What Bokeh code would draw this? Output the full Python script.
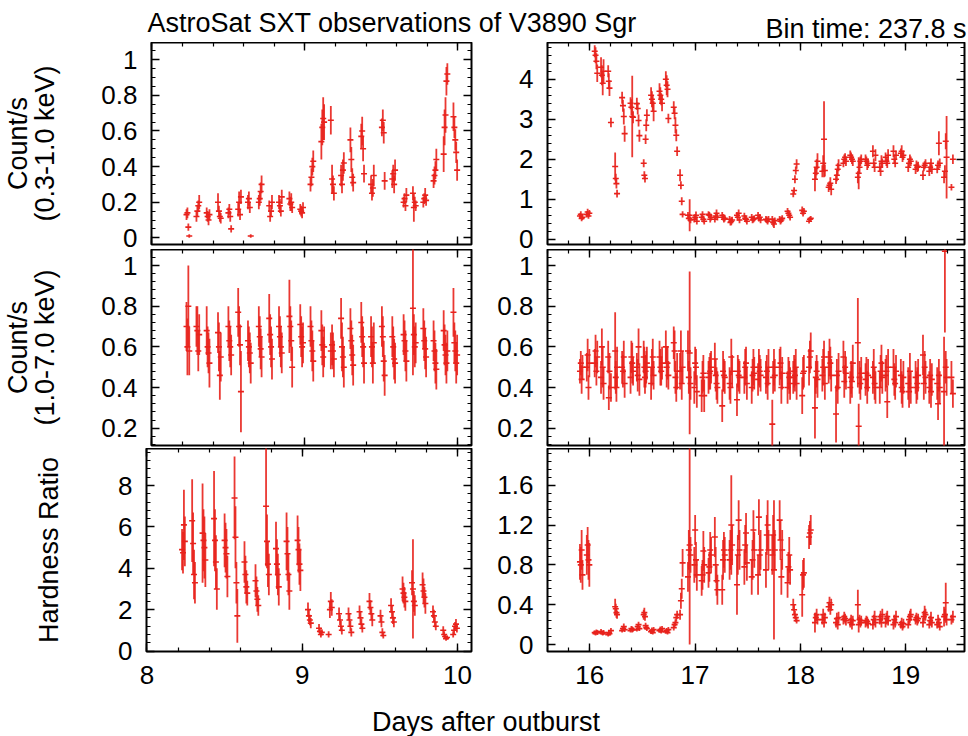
import numpy as np
from bokeh.plotting import figure
from bokeh.models import (Range1d, LinearAxis, SingleIntervalTicker, Label,
                          CustomJSTickFormatter, CustomLabelingPolicy)
from bokeh.layouts import column, row
from bokeh.embed import file_html
from bokeh.resources import INLINE

TITLE = "AstroSat SXT observations of V3890 Sgr"
BIN_TEXT = "Bin time: 237.8 s"
XLABEL = "Days after outburst"
YLABELS = ["Count/s\n(0.3-1.0 keV)", "Count/s\n(1.0-7.0 keV)", "Hardness Ratio"]

# ---------------- left block (days 8-10) ----------------
T_LEFT = [
    8.226, 8.232, 8.238, 8.244,
    8.291, 8.297, 8.303, 8.309,
    8.358, 8.364, 8.370, 8.376,
    8.432, 8.438, 8.444, 8.450,
    8.500, 8.506, 8.512, 8.518,
    8.564, 8.570, 8.576, 8.582,
    8.628, 8.634, 8.640, 8.646,
    8.699, 8.705, 8.711, 8.717,
    8.767, 8.773, 8.779, 8.785,
    8.831, 8.837, 8.843, 8.849,
    8.899, 8.905, 8.911, 8.917,
    8.970, 8.976, 8.982, 8.988,
    9.037, 9.043, 9.049, 9.055,
    9.108, 9.114, 9.120, 9.126,
    9.170, 9.178, 9.184, 9.190,
    9.237, 9.243, 9.249, 9.255,
    9.298, 9.304, 9.310, 9.316,
    9.369, 9.375, 9.381, 9.387,
    9.433, 9.439, 9.445, 9.451,
    9.504, 9.510, 9.516, 9.522,
    9.572, 9.578, 9.584, 9.590,
    9.646, 9.652, 9.658, 9.664,
    9.707, 9.713, 9.719, 9.725,
    9.775, 9.781, 9.787, 9.793,
    9.842, 9.848, 9.854, 9.860,
    9.908, 9.914, 9.920, 9.926, 9.932,
    9.972, 9.978, 9.984, 9.990, 9.996,
]
SOFT_LEFT = [
    .13, .14, .06, .01,
    .12, .15, .18, .20,
    .14, .12, .10, .13,
    .20, .15, .12, .11,
    .14, .16, .12, .05,
    .16, .20, .13, .23,
    .20, .22, .17, .01,
    .20, .22, .26, .30,
    .18, .12, .15, .20,
    .20, .18, .15, .23,
    .22, .19, .20, .17,
    .16, .15, .14, .17,
    .30, .34, .40, .43,
    .54, .62, .67, .65,
    .66, .33, .30, .25,
    .35, .30, .38, .42,
    .55, .44, .34, .31,
    .57, .60, .50, .36,
    .30, .25, .28, .35,
    .62, .66, .59, .32,
    .33, .36, .30, .38,
    .20, .22, .18, .24,
    .25, .17, .20, .18,
    .20, .22, .24, .21,
    .32, .35, .38, .44,
    .47, .62, .69, .88, .92,
    .68, .62, .55, .48, .38,
]
SOFT_LEFT_ERR = [
    .03, .03, .02, .01,
    .03, .03, .03, .04,
    .03, .03, .03, .03,
    .05, .03, .03, .03,
    .03, .03, .03, .02,
    .04, .06, .03, .04,
    .04, .04, .03, .01,
    .04, .04, .05, .05,
    .03, .03, .03, .04,
    .04, .04, .03, .04,
    .04, .04, .05, .03,
    .03, .03, .03, .03,
    .04, .05, .05, .06,
    .10, .10, .12, .10,
    .08, .08, .05, .04,
    .06, .05, .06, .06,
    .07, .07, .05, .05,
    .07, .08, .07, .05,
    .05, .04, .05, .06,
    .05, .06, .06, .05,
    .05, .05, .05, .06,
    .03, .03, .03, .04,
    .04, .08, .03, .03,
    .03, .03, .04, .03,
    .04, .05, .05, .06,
    .10, .10, .10, .08, .06,
    .08, .06, .06, .06, .06,
]
HARD_LEFT = [
    .70, .60, .80, .58,
    .70, .68, .58, .66,
    .68, .60, .57, .52,
    .67, .60, .46, .55,
    .70, .63, .60, .56,
    .77, .70, .61, .38,
    .63, .60, .57, .52,
    .70, .65, .59, .55,
    .74, .66, .60, .54,
    .70, .65, .60, .57,
    .75, .70, .63, .50,
    .71, .65, .60, .62,
    .70, .63, .58, .53,
    .68, .61, .55, .60,
    .58, .61, .58, .54,
    .74, .60, .55, .50,
    .69, .63, .56, .51,
    .72, .65, .60, .52,
    .65, .60, .52, .62,
    .70, .65, .53, .46,
    .65, .60, .54, .52,
    .66, .63, .58, .53,
    .79, .66, .60, .62,
    .69, .63, .59, .55,
    .63, .58, .52, .49,
    .68, .61, .56, .52, .58,
    .77, .62, .58, .52, .56,
]
HARD_LEFT_ERR = [
    .12, .14, .20, .12,
    .10, .12, .10, .10,
    .12, .10, .10, .12,
    .10, .12, .12, .12,
    .10, .10, .10, .10,
    .12, .10, .10, .20,
    .10, .10, .10, .10,
    .10, .10, .10, .10,
    .12, .10, .10, .10,
    .10, .10, .10, .10,
    .18, .10, .10, .10,
    .10, .10, .10, .10,
    .10, .10, .10, .10,
    .10, .10, .10, .10,
    .09, .10, .09, .09,
    .10, .12, .10, .10,
    .10, .10, .10, .10,
    .10, .10, .10, .10,
    .10, .10, .10, .10,
    .10, .10, .10, .10,
    .10, .10, .10, .10,
    .10, .10, .10, .10,
    .33, .10, .10, .10,
    .10, .10, .10, .10,
    .10, .10, .10, .10,
    .10, .10, .10, .10, .10,
    .12, .10, .10, .10, .10,
]
HR_LEFT = [
    4.9, 4.75, 6.1, 5.3,
    6.3, 5.2, 3.7, 3.3,
    5.7, 5.35, 5.0, 4.4,
    6.4, 5.35, 4.3, 3.0,
    5.35, 5.0, 4.7, 3.6,
    7.4, 5.5, 3.3, 1.7,
    4.3, 3.7, 3.1, 2.8,
    3.4, 2.9, 2.5, 2.2,
    7.0, 5.3, 4.2, 3.7,
    4.95, 4.2, 3.7, 3.1,
    5.3, 4.7, 3.7, 2.9,
    5.35, 4.9, 4.2, 3.9,
    2.0, 1.7, 1.5, 1.35,
    1.1, .95, .8, .9,
    .8, 2.0, 2.4, 2.1,
    1.8, 1.5, 1.2, 1.0,
    1.8, 1.5, 1.2, .9,
    1.9, 1.6, 1.3, 1.1,
    2.4, 2.1, 1.8, 1.5,
    1.7, 1.4, .9, .75,
    2.2, 1.9, 1.6, 1.4,
    3.0, 2.8, 2.6, 2.4,
    3.3, 3.0, 2.4, 2.2,
    3.2, 2.9, 2.6, 2.3,
    1.9, 1.7, 1.4, 1.2,
    1.0, .8, .7, .6, .65,
    .8, 1.0, 1.2, 1.3, 1.1,
]
HR_LEFT_ERR = [
    1.0, 1.0, 1.7, 1.2,
    2.0, 1.5, 1.2, 1.0,
    2.4, 1.5, 1.5, 1.3,
    2.3, 1.5, 1.3, 1.0,
    1.3, 1.2, 1.2, 1.0,
    2.0, 1.5, 1.0, 1.3,
    1.0, .9, .8, .6,
    .8, .7, .6, .5,
    2.9, 1.3, 1.1, 1.0,
    1.3, 1.2, 1.0, .9,
    1.4, 1.3, 1.0, .9,
    1.2, 1.1, 1.0, 1.0,
    .35, .3, .25, .25,
    .2, .18, .15, .15,
    .15, .4, .45, .4,
    .3, .25, .25, .2,
    .3, .3, .25, .2,
    .3, .3, .25, .2,
    .4, .35, .3, .3,
    .3, .25, .2, .15,
    .35, .3, .3, .25,
    .6, .5, .5, .45,
    .6, 2.4, .5, .5,
    .6, .6, .5, .5,
    .3, .3, .25, .2,
    .2, .15, .12, .1, .1,
    .15, .2, .2, .25, .2,
]

# ---------------- right block (days 15.9-19.5) ----------------
T_RIGHT = [
    15.908, 15.916, 15.924, 15.932,
    15.973, 15.981, 15.989, 15.997,
    16.048, 16.056, 16.064, 16.072,
    16.108, 16.116, 16.124, 16.132,
    16.176, 16.182, 16.188, 16.202,
    16.242, 16.248, 16.254, 16.260,
    16.308, 16.316, 16.324, 16.332,
    16.388, 16.396, 16.404, 16.412,
    16.448, 16.456, 16.464, 16.472,
    16.513, 16.519, 16.525, 16.531, 16.537, 16.543,
    16.583, 16.591, 16.599, 16.607,
    16.663, 16.671, 16.679, 16.687,
    16.723, 16.731, 16.739, 16.747,
    16.798, 16.806, 16.814, 16.822, 16.830,
    16.858, 16.866, 16.874, 16.882,
    16.933, 16.941, 16.949, 16.957,
    16.993, 17.001, 17.009, 17.017,
    17.063, 17.071, 17.079, 17.087,
    17.128, 17.136, 17.144, 17.152,
    17.188, 17.196, 17.204, 17.212,
    17.258, 17.266, 17.274, 17.282,
    17.328, 17.336, 17.344, 17.352,
    17.398, 17.406, 17.414, 17.422,
    17.468, 17.476, 17.484, 17.492,
    17.538, 17.546, 17.554, 17.562,
    17.598, 17.606, 17.614, 17.622,
    17.673, 17.681, 17.689, 17.697,
    17.733, 17.741, 17.749, 17.757,
    17.803, 17.811, 17.819, 17.827,
    17.878, 17.886, 17.894, 17.902,
    17.932, 17.940, 17.948, 17.956, 17.964,
    18.017, 18.025, 18.033,
    18.082, 18.090, 18.098,
    18.138, 18.146, 18.154, 18.162,
    18.208, 18.216, 18.224, 18.232,
    18.268, 18.276, 18.284, 18.292,
    18.338, 18.346, 18.354, 18.362,
    18.408, 18.416, 18.424, 18.432,
    18.473, 18.481, 18.489, 18.497,
    18.545, 18.553, 18.561, 18.569, 18.577,
    18.618, 18.626, 18.634, 18.642,
    18.688, 18.696, 18.704, 18.712,
    18.753, 18.761, 18.769, 18.777,
    18.808, 18.816, 18.824, 18.832,
    18.883, 18.891, 18.899, 18.907,
    18.953, 18.961, 18.969, 18.977,
    19.023, 19.031, 19.039, 19.047,
    19.093, 19.101, 19.109, 19.117,
    19.163, 19.171, 19.179, 19.187,
    19.223, 19.231, 19.239, 19.247,
    19.298, 19.306, 19.314, 19.322,
    19.363, 19.371, 19.379, 19.387,
    19.433, 19.447,
]
SOFT_RIGHT = [
    .58, .62, .52, .55,
    .62, .68, .58, .65,
    4.70, 4.60, 4.45, 4.15,
    4.30, 4.10, 3.90, 4.20,
    4.20, 3.95, 3.78, 2.92,
    1.82, 1.52, 1.39, 1.14,
    3.54, 3.34, 3.07, 2.64,
    3.40, 3.30, 3.07, 3.05,
    3.39, 3.27, 2.97, 2.59,
    1.90, 1.60, 1.52, 2.50, 2.85, 3.10,
    3.60, 3.50, 3.40, 3.20,
    3.70, 3.60, 3.50, 3.40,
    4.00, 3.85, 3.75, 3.02,
    3.30, 3.15, 2.85, 2.60, 2.20,
    1.60, 1.35, 0.95, 0.62,
    .60, .52, .60, .48,
    .50, .55, .60, .45,
    .55, .62, .50, .45,
    .62, .60, .50, .55,
    .50, .58, .65, .55,
    .60, .55, .50, .52,
    .50, .42, .45, .48,
    .60, .55, .65, .48,
    .58, .52, .50, .45,
    .55, .48, .50, .52,
    .60, .52, .55, .48,
    .50, .48, .45, .50,
    .50, .42, .38, .46,
    .50, .45, .48, .52,
    .70, .65, .60, .55,
    1.13, 1.22, 1.50, 1.72, 1.88,
    .72, .65, .70,
    .45, .50, .52,
    1.50, 1.65, 1.80, 1.95,
    1.70, 1.90, 2.50, 1.72,
    1.30, 1.35, 1.40, 1.25,
    1.50, 1.60, 1.75, 1.85,
    1.90, 2.00, 2.05, 1.95,
    2.10, 2.05, 2.00, 1.95,
    1.55, 1.65, 1.80, 1.95, 2.00,
    2.00, 1.95, 1.85, 1.90,
    2.20, 1.90, 1.80, 2.10,
    1.80, 1.70, 1.95, 1.90,
    2.05, 1.95, 1.90, 2.10,
    2.20, 2.00, 1.90, 2.10,
    2.15, 2.20, 2.05, 2.10,
    1.80, 1.90, 2.00, 1.95,
    1.75, 1.85, 1.80, 1.82,
    1.60, 1.80, 1.85, 1.90,
    1.70, 1.80, 1.90, 1.75,
    1.75, 1.85, 2.40, 1.90,
    1.55, 1.70, 2.45, 2.05,
    1.30, 2.00,
]
SOFT_RIGHT_ERR = [
    .07, .08, .07, .07,
    .08, .08, .07, .08,
    .15, .20, .20, .22,
    .25, .25, .30, .30,
    .15, .20, .20, .12,
    .35, .12, .12, .10,
    .15, .15, .20, .20,
    .15, .20, 1.02, .15,
    .15, .15, .15, .15,
    .10, .10, .10, .12, .15, .15,
    .20, .20, .20, .25,
    .20, .20, .15, .20,
    .20, .25, .20, .12,
    .15, .15, .20, .15, .12,
    .15, .10, .10, .08,
    .08, .08, .40, .08,
    .08, .08, .09, .08,
    .08, .08, .08, .08,
    .08, .08, .08, .08,
    .08, .08, .09, .08,
    .08, .08, .08, .08,
    .08, .08, .10, .08,
    .08, .08, .09, .08,
    .08, .08, .08, .08,
    .08, .08, .08, .08,
    .08, .08, .08, .08,
    .08, .08, .08, .08,
    .08, .10, .10, .08,
    .08, .08, .08, .08,
    .08, .08, .08, .08,
    .08, .08, .10, .10, .12,
    .10, .08, .08,
    .06, .06, .06,
    .30, .15, .20, .20,
    .15, .20, .95, .15,
    .12, .10, .15, .15,
    .12, .15, .15, .15,
    .10, .12, .10, .12,
    .12, .12, .12, .12,
    .15, .40, .15, .12, .12,
    .12, .12, .12, .12,
    .15, .12, .12, .15,
    .12, .12, .15, .12,
    .12, .12, .12, .15,
    .15, .12, .10, .12,
    .12, .15, .12, .12,
    .12, .12, .12, .12,
    .12, .12, .12, .12,
    .12, .10, .10, .10,
    .12, .12, .12, .12,
    .10, .12, .30, .12,
    .15, .15, .20, 1.03,
    .08, .12,
]
HARD_RIGHT = [
    .48, .52, .44, .50,
    .50, .56, .40, .52,
    .52, .58, .48, .55,
    .45, .60, .50, .42,
    .55, .35, .48, .40,
    .58, .45, .40, .50,
    .50, .48, .55, .42,
    .45, .55, .52, .48,
    .50, .46, .60, .44,
    .55, .50, .45, .48, .50, .52,
    .42, .50, .55, .46,
    .55, .50, .48, .52,
    .60, .50, .52, .46,
    .62, .58, .45, .40, .48,
    .48, .58, .42, .50,
    .58, .45, .57, .42,
    .40, .52, .50, .38,
    .36, .45, .47, .36,
    .45, .47, .48, .50,
    .54, .46, .42, .40,
    .31, .48, .46, .45,
    .42, .40, .55, .48,
    .34, .48, .46, .45,
    .45, .50, .52, .42,
    .40, .46, .50, .47,
    .44, .50, .48, .46,
    .45, .48, .42, .50,
    .22, .45, .50, .46,
    .50, .52, .40, .47,
    .40, .47, .45, .42,
    .45, .48, .46, .50, .42,
    .36, .47, .48,
    .50, .55, .58,
    .30, .45, .48, .44,
    .46, .50, .55, .42,
    .50, .55, .52, .46,
    .27, .46, .40, .48,
    .55, .43, .50, .47,
    .40, .45, .43, .52,
    .62, .21, .45, .42, .47,
    .44, .47, .40, .46,
    .45, .50, .42, .40,
    .40, .48, .52, .45,
    .46, .48, .33, .50,
    .50, .44, .42, .48,
    .46, .40, .38, .45,
    .42, .38, .48, .40,
    .45, .40, .42, .46,
    .56, .42, .50, .45,
    .40, .46, .38, .44,
    .42, .32, .46, .40,
    .38, 1.07, .50, .45,
    .45, .37,
]
HARD_RIGHT_ERR = [
    .06, .06, .07, .06,
    .07, .08, .06, .07,
    .07, .08, .07, .08,
    .08, .09, .10, .08,
    .08, .06, .09, .07,
    .19, .08, .07, .10,
    .08, .08, .08, .07,
    .08, .08, .10, .07,
    .07, .08, .09, .08,
    .08, .10, .08, .08, .08, .08,
    .08, .09, .09, .07,
    .08, .09, .07, .08,
    .08, .10, .08, .07,
    .08, .10, .08, .07, .09,
    .09, .10, .08, .08,
    .10, .08, .40, .08,
    .08, .08, .09, .08,
    .08, .08, .09, .08,
    .08, .08, .09, .08,
    .08, .08, .08, .08,
    .08, .10, .08, .08,
    .08, .08, .09, .08,
    .08, .08, .08, .08,
    .08, .09, .08, .08,
    .08, .08, .09, .08,
    .08, .09, .08, .08,
    .08, .08, .08, .09,
    .12, .08, .09, .08,
    .09, .08, .08, .08,
    .08, .08, .08, .08,
    .08, .08, .08, .09, .08,
    .09, .08, .08,
    .09, .08, .09,
    .15, .08, .08, .09,
    .08, .09, .08, .08,
    .08, .09, .08, .08,
    .14, .08, .08, .09,
    .08, .08, .08, .08,
    .08, .08, .08, .09,
    .22, .11, .08, .08, .08,
    .08, .08, .08, .08,
    .08, .09, .08, .08,
    .08, .08, .09, .08,
    .08, .08, .08, .09,
    .09, .08, .08, .08,
    .08, .08, .08, .08,
    .08, .08, .09, .08,
    .08, .08, .08, .08,
    .10, .08, .08, .08,
    .08, .08, .08, .08,
    .08, .08, .08, .08,
    .27, .40, .08, .09,
    .08, .07,
]
HR_RIGHT = [
    .83, .80, .95, .70,
    .90, 1.00, .85, .80,
    .12, .11, .13, .12,
    .13, .12, .11, .12,
    .10, .12, .11, .14,
    .38, .36, .32, .30,
    .14, .16, .18, .15,
    .14, .16, .15, .15,
    .15, .18, .20, .16,
    .30, .32, .28, .19, .17, .16,
    .13, .14, .12, .15,
    .14, .15, .13, .16,
    .13, .14, .12, .15,
    .17, .20, .22, .27, .30,
    .30, .44, .56, .82,
    .68, .95, 1.00, .90,
    .80, 1.15, .85, .70,
    .64, .70, .94, .80,
    .72, .78, .95, .90,
    1.08, .80, .64, .55,
    .55, .85, .95, .90,
    .85, .95, 1.20, 1.00,
    .60, .90, 1.25, .95,
    .78, 1.00, 1.12, .82,
    .68, .85, 1.15, .95,
    .70, 1.28, .90, .95,
    .75, 1.10, 1.20, .95,
    .90, 1.10, .75, .95,
    1.25, 1.05, .68, .95,
    .62, .78, .90, .75,
    .40, .35, .30, .27, .24,
    .50, .70, .72,
    1.08, 1.12, 1.15,
    .22, .27, .30, .25,
    .25, .30, .22, .27,
    .38, .42, .35, .40,
    .22, .26, .20, .27,
    .25, .28, .26, .24,
    .22, .25, .20, .24,
    .40, .20, .25, .22, .24,
    .22, .24, .23, .21,
    .20, .25, .28, .22,
    .25, .28, .22, .30,
    .22, .26, .28, .24,
    .20, .25, .22, .28,
    .20, .22, .18, .21,
    .20, .25, .28, .30,
    .25, .27, .24, .26,
    .22, .28, .32, .30,
    .20, .24, .27, .22,
    .20, .25, .22, .18,
    .28, .30, .42, .25,
    .25, .28,
]
HR_RIGHT_ERR = [
    .18, .18, .20, .15,
    .20, .18, .20, .22,
    .02, .02, .02, .025,
    .025, .02, .02, .025,
    .02, .02, .02, .025,
    .08, .05, .05, .04,
    .02, .025, .03, .025,
    .02, .025, .03, .02,
    .02, .025, .03, .025,
    .05, .05, .04, .03, .025, .025,
    .025, .03, .02, .025,
    .02, .03, .02, .025,
    .02, .025, .02, .025,
    .03, .03, .035, .04, .04,
    .05, .08, .10, .14,
    .15, .20, 1.00, .18,
    .18, .15, .18, .16,
    .15, .15, .20, .18,
    .15, .15, .18, .18,
    .20, .18, .15, .15,
    .15, .20, .18, .18,
    .20, .20, .50, .20,
    .30, .20, .20, .20,
    .18, .20, .20, .18,
    .18, .20, .20, .18,
    .20, .18, .20, .20,
    .18, .20, .25, .20,
    .20, .20, .70, .20,
    .20, .20, .18, .20,
    .15, .15, .18, .15,
    .06, .05, .04, .04, .03,
    .22, .15, .15,
    .12, .12, .15,
    .10, .05, .06, .05,
    .05, .06, .05, .05,
    .05, .06, .05, .06,
    .05, .06, .05, .06,
    .05, .05, .05, .05,
    .05, .05, .05, .05,
    .15, .08, .05, .05, .05,
    .05, .05, .05, .05,
    .05, .05, .06, .05,
    .05, .06, .05, .06,
    .05, .06, .06, .05,
    .05, .05, .05, .06,
    .04, .05, .04, .05,
    .04, .05, .06, .06,
    .05, .05, .05, .05,
    .05, .06, .07, .06,
    .04, .05, .06, .05,
    .04, .05, .05, .04,
    .10, .06, .20, .06,
    .05, .06,
]

for name, arrs in (("left", (T_LEFT, SOFT_LEFT, SOFT_LEFT_ERR, HARD_LEFT, HARD_LEFT_ERR, HR_LEFT, HR_LEFT_ERR)),
                   ("right", (T_RIGHT, SOFT_RIGHT, SOFT_RIGHT_ERR, HARD_RIGHT, HARD_RIGHT_ERR, HR_RIGHT, HR_RIGHT_ERR))):
    lens = [len(a) for a in arrs]
    if len(set(lens)) != 1:
        raise ValueError(name + " length mismatch " + str(lens))

FONT = "Liberation Sans"
FS = "26px"
FS_TXT = "27px"
RED = "#e8221c"
FMT_CODE = "return String(Math.round(tick*1000)/1000);"
HIDE_CODE = "const all = [...indices]; for (const i of all) indices.unset(i); return indices;"


def style_axis(ax, interval, nminor, show_labels, standoff=0):
    ax.ticker = SingleIntervalTicker(interval=interval, num_minor_ticks=nminor)
    ax.formatter = CustomJSTickFormatter(code=FMT_CODE)
    ax.axis_line_color = None
    ax.major_tick_in = 8
    ax.major_tick_out = 0
    ax.minor_tick_in = 4
    ax.minor_tick_out = 0
    ax.major_tick_line_color = "black"
    ax.major_tick_line_width = 1.4
    ax.minor_tick_line_color = "black"
    ax.minor_tick_line_width = 1.2
    ax.major_label_text_font = FONT
    ax.major_label_text_color = "black"
    if show_labels:
        ax.major_label_text_font_size = FS
        ax.major_label_standoff = standoff
    else:
        ax.major_label_text_font_size = "0px"
        ax.major_label_standoff = 0
        ax.major_label_policy = CustomLabelingPolicy(code=HIDE_CODE)


def panel(t, y, e, xr, yr, yint, yminor, width, bl, height, bb, show_x,
          ylabel=None, ylab_standoff=0):
    p = figure(width=width, height=height, x_range=Range1d(*xr), y_range=Range1d(*yr),
               output_backend="svg", toolbar_location=None,
               min_border_left=bl, min_border_right=4, min_border_top=0, min_border_bottom=bb)
    p.xgrid.visible = False
    p.ygrid.visible = False
    p.outline_line_color = "black"
    p.outline_line_width = 2
    p.add_layout(LinearAxis(), "above")
    p.add_layout(LinearAxis(), "right")
    style_axis(p.below[0], 1, 5, show_x, 14)
    style_axis(p.above[0], 1, 5, False)
    style_axis(p.left[0], yint, yminor, True, 14)
    style_axis(p.right[0], yint, yminor, False)
    if ylabel:
        ax = p.left[0]
        ax.axis_label = ylabel
        ax.axis_label_text_font = FONT
        ax.axis_label_text_font_size = FS_TXT
        ax.axis_label_text_font_style = "normal"
        ax.axis_label_text_color = "black"
        ax.axis_label_text_line_height = 0.9
        ax.axis_label_standoff = ylab_standoff
    t = np.asarray(t, dtype=float)
    y = np.asarray(y, dtype=float)
    e = np.asarray(e, dtype=float)
    p.segment(x0=t, y0=y - e, x1=t, y1=y + e, line_color=RED, line_width=1.8, line_alpha=0.9)
    p.scatter(x=t, y=y, marker="dash", size=6, line_color=RED, line_width=1.6)
    return p


XL = (7.997, 10.09)
XR = (15.6, 19.557)
WL, BL = 475, 146
WR, BR = 493, 72

# row 1: frame 42-244 (canvas to 249), row 2: frame 249-445 (canvas to 448), row 3: frame 448-651
a1 = panel(T_LEFT, SOFT_LEFT, SOFT_LEFT_ERR, XL, (-0.0376, 1.097), 0.2, 4, WL, BL, 207, 5, False, YLABELS[0], 38)
b1 = panel(T_RIGHT, SOFT_RIGHT, SOFT_RIGHT_ERR, XR, (-0.1325, 4.92), 1, 5, WR, BR, 207, 5, False)
a2 = panel(T_LEFT, HARD_LEFT, HARD_LEFT_ERR, XL, (0.115, 1.0787), 0.2, 5, WL, BL, 199, 3, False, YLABELS[1], 38)
b2 = panel(T_RIGHT, HARD_RIGHT, HARD_RIGHT_ERR, XR, (0.115, 1.0787), 0.2, 5, WR, BR, 199, 3, False)
a3 = panel(T_LEFT, HR_LEFT, HR_LEFT_ERR, XL, (-0.024, 9.79), 2, 5, WL, BL, 253, 50, True, YLABELS[2], 51)
b3 = panel(T_RIGHT, HR_RIGHT, HR_RIGHT_ERR, XR, (-0.07, 1.969), 0.4, 5, WR, BR, 253, 50, True)


def text_strip(height):
    p = figure(width=968, height=height, x_range=Range1d(0, 968), y_range=Range1d(0, height),
               output_backend="svg", toolbar_location=None, min_border=0,
               x_axis_location=None, y_axis_location=None)
    p.outline_line_color = None
    p.xgrid.visible = False
    p.ygrid.visible = False
    return p


hdr = text_strip(42)
hdr.add_layout(Label(x=147, y=19.5, text=TITLE, text_font=FONT, text_font_size=FS_TXT,
                     text_color="black", text_align="left", text_baseline="alphabetic"))
hdr.add_layout(Label(x=966, y=14, text=BIN_TEXT, text_font=FONT, text_font_size=FS_TXT,
                     text_color="black", text_align="right", text_baseline="alphabetic"))

ftr = text_strip(35)
ftr.add_layout(Label(x=485.5, y=15, text=XLABEL, text_font=FONT, text_font_size=FS_TXT,
                     text_color="black", text_align="center", text_baseline="alphabetic"))

layout = column(hdr, row(a1, b1), row(a2, b2), row(a3, b3), ftr)

open("out.html", "w").write(file_html(layout, INLINE))
